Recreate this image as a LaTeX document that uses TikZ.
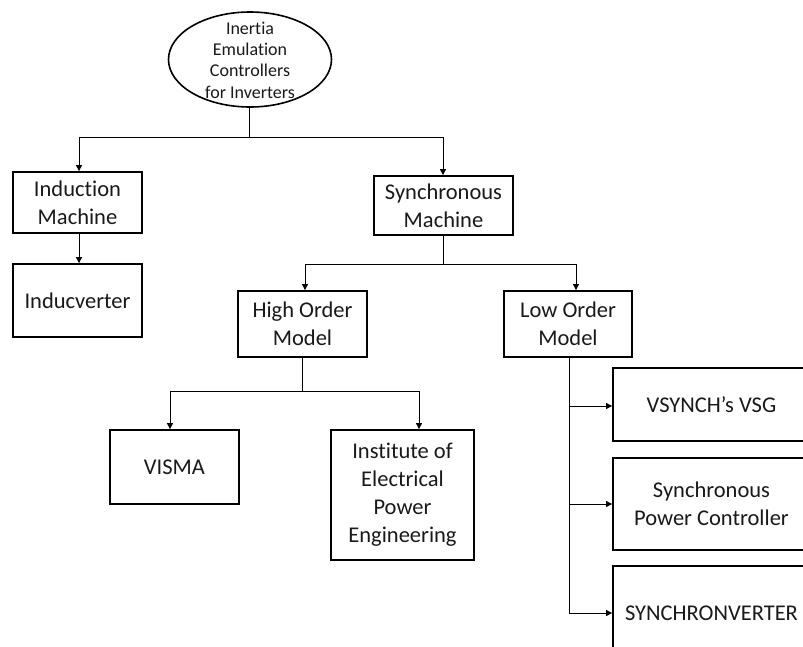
\documentclass[tikz,border=0pt]{standalone}
\usepackage{fontspec}
\setmainfont{Carlito}[Ligatures={NoCommon}]
\usetikzlibrary{shapes.geometric,arrows.meta}
\tikzset{
  box/.style={draw, line width=1.8pt, rectangle, inner sep=0pt, align=center,
    font=\fontsize{22.5}{28}\selectfont, text=black!90},
  rootnode/.style={draw, line width=1.6pt, ellipse, inner sep=0pt,
    font=\fontsize{18}{21.3}\selectfont, text=black!90,
    minimum width=163pt, minimum height=95pt},
  conn/.style={line width=0.9pt},
  arr/.style={conn, -{Triangle[length=6pt,width=6pt]}},
}
\begin{document}
\begin{tikzpicture}[x=1pt,y=-1pt]
\useasboundingbox (0,0) rectangle (803,646);
\begin{scope}
\clip (0,0) rectangle (803,646);
\node[rootnode] (root) at (250,59.5) {\raisebox{-5pt}[0pt][0pt]{\makebox[0pt][c]{\parbox{160pt}{\centering Inertia\\ Emulation\\ Controllers\\ for Inverters}}}};
\node[box, minimum width=129pt, minimum height=61pt] (im) at (77.5,202.5) {Induction\\ Machine};
\node[box, minimum width=129pt, minimum height=73pt] (ind) at (77.5,300.5) {Inducverter};
\node[box, minimum width=139pt, minimum height=59pt] (sm) at (443.5,205.5) {Synchronous\\ Machine};
\node[box, minimum width=129pt, minimum height=66pt] (hom) at (302.5,324) {High Order\\ Model};
\node[box, minimum width=128pt, minimum height=66pt] (lom) at (568,324) {Low Order\\ Model};
\node[box, minimum width=129pt, minimum height=74pt] (visma) at (174.5,467) {VISMA};
\node[box, minimum width=143pt, minimum height=130pt] (iepe) at (402.5,495) {Institute of\\ Electrical\\ Power\\ Engineering};
\node[box, minimum width=197pt, minimum height=73pt] (vsg) at (711.5,404.5) {VSYNCH’s VSG};
\node[box, minimum width=197pt, minimum height=92pt] (spc) at (711.5,504) {Synchronous\\ Power Controller};
\node[box, minimum width=197pt, minimum height=94pt] (sync) at (711.5,613) {SYNCHRONVERTER};

% root branches
\coordinate (j1) at (249,137);
\draw[conn] ([xshift=-1pt]root.south) -- (j1);
\draw[arr] (j1) -| ([xshift=1.5pt]im.north);
\draw[arr] (j1) -| ([xshift=-0.5pt]sm.north);
% induction
\draw[arr] ([xshift=1.5pt]im.south) -- ([xshift=1.5pt]ind.north);
% synchronous branches
\coordinate (j2) at (443,264);
\draw[conn] ([xshift=-0.5pt]sm.south) -- (j2);
\draw[arr] (j2) -| ([xshift=2.5pt]hom.north);
\draw[arr] (j2) -| ([xshift=8pt]lom.north);
% high order branches
\coordinate (j3) at (302,391);
\draw[conn] ([xshift=-0.5pt]hom.south) -- (j3);
\draw[arr] (j3) -| ([xshift=-4.5pt]visma.north);
\draw[arr] (j3) -| ([xshift=16.5pt]iepe.north);
% low order branches
\draw[arr] ([xshift=1pt]lom.south) |- (sync.west);
\draw[arr] ([xshift=1pt]lom.south |- 0,406) -- (vsg.west |- 0,406);
\draw[arr] ([xshift=1pt]lom.south |- spc.west) -- (spc.west);
\end{scope}
\end{tikzpicture}
\end{document}
